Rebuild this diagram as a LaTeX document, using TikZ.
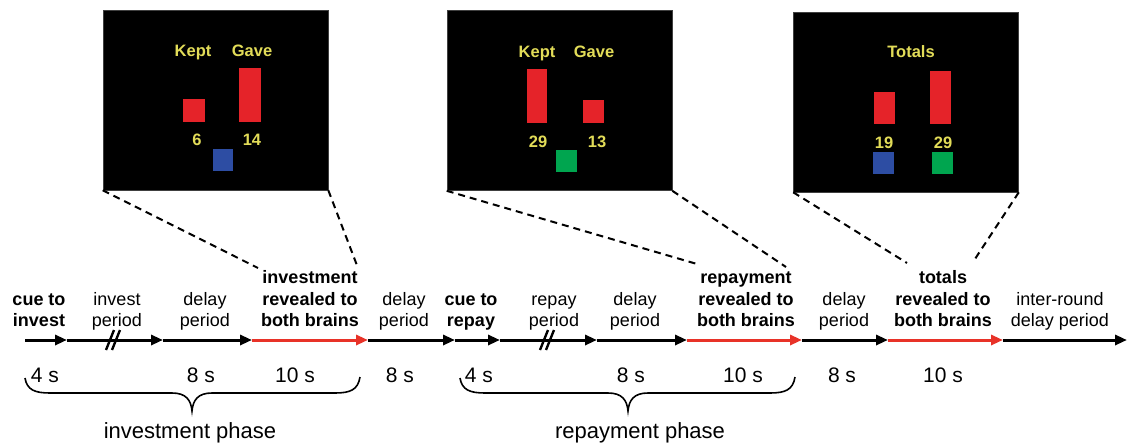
\documentclass[tikz,border=0pt]{standalone}
\usepackage{fontspec}
\setmainfont{Liberation Sans}
\usetikzlibrary{arrows.meta}
\definecolor{scryellow}{RGB}{226,220,88}
\definecolor{barred}{RGB}{229,35,41}
\definecolor{barblue}{RGB}{45,77,163}
\definecolor{bargreen}{RGB}{0,165,79}
\definecolor{tred}{RGB}{232,50,40}
\tikzset{
  panel/.style={fill=black, draw=black!75, line width=0.6pt, inner sep=0,
    minimum width=225pt, minimum height=180pt},
  ptext/.style={text=scryellow, anchor=base, inner sep=0,
    font=\bfseries\fontsize{16.5}{18}\selectfont},
  seg/.style={line width=3pt, -{Triangle[length=12pt,width=10pt]}},
  redseg/.style={seg, draw=tred},
  lbl/.style={align=center, anchor=south, inner sep=0,
    font=\fontsize{18}{21.5}\selectfont},
  blbl/.style={lbl, font=\bfseries\fontsize{18}{21.5}\selectfont},
  tlab/.style={anchor=base, inner sep=0, font=\fontsize{21}{24}\selectfont},
  phase/.style={anchor=base, inner sep=0, font=\fontsize{22}{26}\selectfont},
  zoomline/.style={line width=2pt, dash pattern=on 7pt off 5pt},
  brk/.style={line width=2.4pt},
  brace/.style={line width=1.6pt}
}
\begin{document}
\begin{tikzpicture}[x=1pt,y=-1pt]
\useasboundingbox (0,0) rectangle (1133,444);

% ---- screen panels ----
\node[panel] (p1) at (215.5,100) {};
\fill[barred] (183,99) rectangle (205,122);
\fill[barred] (239,68) rectangle (261,122);
\fill[barblue] (213,149) rectangle (233,171);
\node[ptext] (p1kept) at (193,57) {Kept};
\node[ptext] (p1gave) at (252,57) {Gave};
\node[ptext] (p1a) at (197,145) {6};
\node[ptext] (p1b) at (252,145) {14};

\node[panel] (p2) at (559.5,100.5) {};
\fill[barred] (527,69) rectangle (547,123);
\fill[barred] (583,100) rectangle (604,123);
\fill[bargreen] (556,150) rectangle (577,172);
\node[ptext] (p2kept) at (537,58) {Kept};
\node[ptext] (p2gave) at (594,58) {Gave};
\node[ptext] (p2a) at (538,147) {29};
\node[ptext] (p2b) at (597,147) {13};

\node[panel] (p3) at (906,102) {};
\fill[barred] (874,92) rectangle (895,124);
\fill[barred] (930,71) rectangle (951,124);
\fill[barblue] (873,152) rectangle (894,174);
\fill[bargreen] (932,152) rectangle (953,174);
\node[ptext] (p3tot) at (911,58) {Totals};
\node[ptext] (p3a) at (884,148) {19};
\node[ptext] (p3b) at (943,148) {29};

% ---- time line ----
\coordinate (t0) at (25,340);
\coordinate (t1) at (67,340);
\coordinate (t2) at (163,340);
\coordinate (t3) at (252,340);
\coordinate (t4) at (368,340);
\coordinate (t5) at (455,340);
\coordinate (t6) at (500,340);
\coordinate (t7) at (597,340);
\coordinate (t8) at (687,340);
\coordinate (t9) at (802,340);
\coordinate (t10) at (888,340);
\coordinate (t11) at (1003,340);
\coordinate (t12) at (1127,340);

\draw[seg] (t0) -- (t1);
\draw[seg] (t1) -- (t2);
\draw[seg] (t2) -- (t3);
\draw[redseg] (t3) -- (t4);
\draw[seg] (t4) -- (t5);
\draw[seg] (t5) -- (t6);
\draw[seg] (t6) -- (t7);
\draw[seg] (t7) -- (t8);
\draw[redseg] (t8) -- (t9);
\draw[seg] (t9) -- (t10);
\draw[redseg] (t10) -- (t11);
\draw[seg] (t11) -- (t12);

% breaks in the variable-length periods
\draw[brk] (106,350) -- (114,330);
\draw[brk] (112,350) -- (120,330);
\draw[brk] (540,350) -- (548,330);
\draw[brk] (546,350) -- (554,330);

% ---- event labels ----
\node[blbl] (l1) at (39,333.5) {cue to\\invest\strut};
\node[lbl] (l2) at (117,333.5) {invest\\period\strut};
\node[lbl] (l3) at (205,333.5) {delay\\period\strut};
\node[blbl] (l4) at (310,333.5) {investment\\revealed to\\both brains\strut};
\node[lbl] (l5) at (404,333.5) {delay\\period\strut};
\node[blbl] (l6) at (471,333.5) {cue to\\repay\strut};
\node[lbl] (l7) at (554,333.5) {repay\\period\strut};
\node[lbl] (l8) at (635,333.5) {delay\\period\strut};
\node[blbl] (l9) at (746,333.5) {repayment\\revealed to\\both brains\strut};
\node[lbl] (l10) at (844,333.5) {delay\\period\strut};
\node[blbl] (l11) at (943,333.5) {totals\\revealed to\\both brains\strut};
\node[lbl] (l12) at (1060,333.5) {inter-round\\delay period\strut};

% ---- durations ----
\node[tlab] (d1) at (45,382) {4 s};
\node[tlab] (d2) at (201,382) {8 s};
\node[tlab] (d3) at (295,382) {10 s};
\node[tlab] (d4) at (400,382) {8 s};
\node[tlab] (d5) at (479,382) {4 s};
\node[tlab] (d6) at (631,382) {8 s};
\node[tlab] (d7) at (743,382) {10 s};
\node[tlab] (d8) at (842,382) {8 s};
\node[tlab] (d9) at (943,382) {10 s};

% ---- phase braces ----
\draw[brace] (25,378) .. controls (27,390) and (35,393) .. (50,393) -- (172,393)
  .. controls (186,393) and (191,400) .. (192,411)
  .. controls (193,400) and (198,393) .. (212,393) -- (335,393)
  .. controls (350,393) and (358,390) .. (360,377);
\draw[brace] (460,378) .. controls (462,390) and (470,393) .. (485,393) -- (608,393)
  .. controls (622,393) and (627,400) .. (628,411)
  .. controls (629,400) and (634,393) .. (648,393) -- (770,393)
  .. controls (785,393) and (793,390) .. (795,377);
\node[phase] (ph1) at (190,438) {investment phase};
\node[phase] (ph2) at (640,438) {repayment phase};

% ---- zoom lines from the screens to their events ----
\coordinate (z1l) at (258,268);
\coordinate (z1r) at (358,268);
\coordinate (z2l) at (697,264);
\coordinate (z2r) at (786,267);
\coordinate (z3l) at (907,263);
\coordinate (z3r) at (973,262);
\draw[zoomline] (p1.south west) -- (z1l);
\draw[zoomline] (p1.south east) -- (z1r);
\draw[zoomline] (p2.south west) -- (z2l);
\draw[zoomline] (p2.south east) -- (z2r);
\draw[zoomline] (p3.south west) -- (z3l);
\draw[zoomline] (p3.south east) -- (z3r);
\end{tikzpicture}
\end{document}
